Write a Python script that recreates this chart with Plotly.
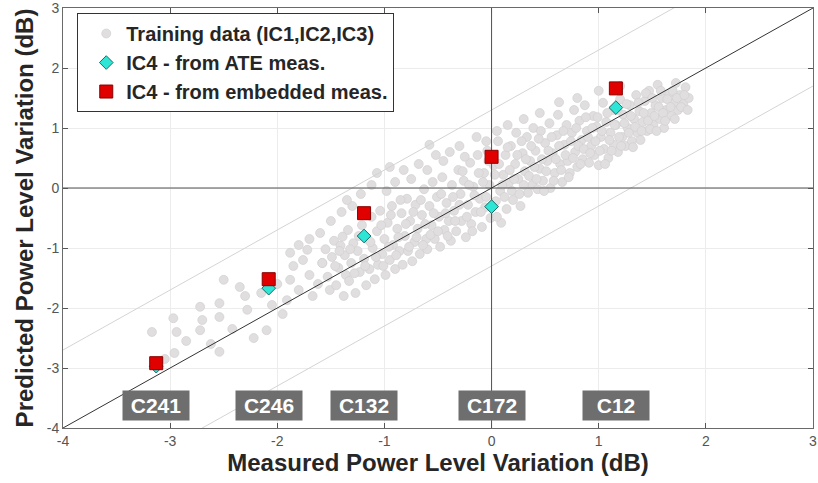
import plotly.graph_objects as go

# ---------------- data ----------------
train_x = [
    -3.17, -3.05, -2.97, -2.94, -2.96, -2.85, -2.72, -2.72, -2.70, -2.62, -2.54, -2.54, -2.54, -2.50,
    -2.42, -2.35, -2.30, -2.28, -2.22, -2.15, -2.10, -2.05, -2.00, -1.95, -1.91, -1.88, -1.88, -1.85,
    -1.80, -1.76, -1.72, -1.70, -1.67, -1.62, -1.58,
    -1.58, -1.55, -1.53, -1.51, -1.49, -1.47, -1.45, -1.43, -1.41, -1.39, -1.38, -1.37, -1.36,
    -1.34, -1.33, -1.31, -1.29, -1.27, -1.25, -1.23, -1.21, -1.19, -1.17, -1.16, -1.14, -1.12, -1.11,
    -1.09, -1.07, -1.06, -1.04, -1.02, -1.00, -0.99, -0.97, -0.95, -0.93, -0.92, -0.90, -0.88, -0.86,
    -0.84, -0.83, -0.81, -0.79, -0.78, -0.76, -0.74, -0.72, -0.71, -0.69, -0.67, -0.65, -0.63, -0.61,
    -0.60, -0.58, -0.56, -0.55, -0.53, -0.51, -0.49, -0.48, -0.46, -0.44, -0.42, -0.40, -0.38, -0.37,
    -0.35, -0.33, -0.31, -0.29, -0.28, -0.26, -0.24, -0.22, -0.20, -0.19, -0.17, -0.15, -0.13, -0.11,
    -0.09, -0.07, -0.06, -0.04, -0.02, -0.01, 0.02, 0.04, 0.06, 0.08, 0.09, 0.11, 0.13, 0.14,
    0.16, 0.18, 0.20, 0.22, 0.23, 0.25, 0.27, 0.29, 0.31, 0.33, 0.34, 0.36, 0.38, 0.39,
    0.41, 0.43, 0.45, 0.46, 0.48, 0.50, 0.52, 0.54, 0.55, 0.57, 0.59, 0.61, 0.62, 0.64,
    0.66, 0.68, 0.70, 0.71, 0.73, 0.75, 0.77, 0.78, 0.80, 0.82, 0.84, 0.85, 0.87, 0.89,
    0.91, 0.93, 0.95, 0.96, 0.98, 1.00, 1.02, 1.04, 1.05, 1.07, 1.09, 1.11, 1.13, 1.14,
    1.16, 1.18, 1.20, 1.22, 1.23, 1.25, 1.27, 1.29, 1.31, 1.33, 1.35, 1.36, 1.38, 1.39,
    1.41, 1.43, 1.45, 1.47, 1.49, 1.51, 1.53, 1.55, 1.57, 1.59, 1.61, 1.63,
    1.66, 1.68, 1.70, 1.72, 1.74, 1.76, 1.79, 1.81, 1.84,
    -1.50, -1.40, -1.30, -1.22, -1.12, -1.07, -0.98, -0.90, -0.82, -0.75, -0.68, -0.60, -0.52, -0.45,
    -0.39, -0.30, -0.25, -0.14, -0.05, 0.05, 0.15, 0.30, 0.45, 0.63, 0.80, 1.00, 1.20, -1.35,
    -0.95, -0.58, -1.60, -1.70, -1.80,
    -1.46, -1.42, -1.32, -1.28, -1.24, -1.18, -1.13, -1.08, -1.03, -1.01, -0.96, -0.94, -0.89, -0.87,
    -0.85, -0.80, -0.77, -0.73, -0.70, -0.66, -0.64, -0.62, -0.57, -0.54, -0.50, -0.47, -0.43, -0.41,
    -0.36, -0.34, -0.30, -0.27, -0.23, -0.21, -0.18, -0.16, -0.12, -0.10, -0.08, -0.05, -0.03, 0.00,
    0.03, 0.05, 0.07, 0.10, 0.12, 0.15, 0.17, 0.19, 0.21, 0.24, 0.26, 0.28, 0.30, 0.32,
    0.35, 0.37, 0.40, 0.42, 0.44, 0.47, 0.49, 0.51, 0.53, 0.56, 0.58, 0.60, 0.63, 0.65,
    0.67, 0.69, 0.72, 0.74, 0.76, 0.79, 0.81, 0.83, 0.86, 0.88, 0.90, 0.92, 0.94, 0.97,
    0.99, 1.01, 1.03, 1.06, 1.08, 1.10, 1.12, 1.15, 1.17, 1.19, 1.21, 1.24, 1.26, 1.28,
    1.30, 1.32, 1.34, 1.37, 1.40, 1.42, 1.44, 1.46, 1.48, 1.50, 1.52, 1.54, 1.56, 1.58,
    1.60, 1.62, 1.64, 1.67, 1.69, 1.71, 1.73, 1.77, 1.80, 1.83,
]
train_y = [
    -2.40, -2.85, -2.17, -2.40, -2.75, -2.55, -2.37, -1.98, -2.20, -2.60, -2.15, -2.73, -1.92, -1.53,
    -2.35, -1.65, -1.80, -2.03, -2.50, -1.75, -2.37, -1.95, -1.60, -2.10, -1.87, -1.53, -1.08, -1.30,
    -1.70, -1.20, -1.03, -1.45, -1.80, -1.60, -1.25,
    -1.25, -1.02, -1.48, -1.70, -1.15, -0.88, -1.62, -1.33, -0.96, -0.81, -1.80, -1.12, -1.45,
    -0.70, -1.55, -1.25, -0.92, -1.75, -1.05, -1.40, -0.62, -1.18, -1.62, -0.85, -1.35, -0.48, -1.00,
    -1.52, -0.72, -1.28, -0.38, -1.10, -0.85, -1.45, -0.58, -1.20, -0.30, -0.95, -1.35, -0.68, -1.05,
    -0.42, -1.28, -0.80, -0.18, -1.05, -0.55, -1.22, -0.90, -0.28, -0.68, -1.10, -0.45, -0.02, -0.85,
    -1.02, -0.30, -0.62, 0.10, -0.85, -0.15, -0.48, -0.98, 0.18, -0.70, -0.25, -0.55, -0.88, 0.05,
    -0.38, -0.72, 0.30, -0.10, -0.55, 0.12, -0.82, -0.28, 0.42, -0.60, 0.02, -0.40, 0.55, -0.18,
    -0.65, 0.25, -0.32, 0.62, 0.05, -0.50, 0.38, -0.22, 0.78, -0.05, -0.58, 0.22, 0.55, -0.35,
    0.08, 0.70, -0.20, 0.40, 0.92, 0.15, -0.30, 0.58, 0.28, 0.85, -0.08, 0.45, 0.05, 1.00,
    0.62, -0.02, 0.32, 0.95, 0.12, 0.75, 0.45, 1.08, 0.00, 0.58, 0.25, 0.88, 1.22, 0.40,
    0.10, 0.72, 1.05, 0.45, 0.25, 0.92, 1.30, 0.60, 0.35, 1.12, 0.80, 0.48, 1.38, 0.95,
    0.42, 0.70, 1.20, 0.55, 1.02, 0.38, 0.85, 1.42, 0.65, 1.10, 0.50, 0.92, 1.30, 0.72,
    1.05, 0.60, 1.48, 0.85, 1.22, 0.70, 1.00, 1.38, 0.78, 1.15, 1.55, 0.92, 1.28, 0.80,
    1.10, 1.45, 0.95, 1.62, 1.25, 1.05, 1.38, 1.72, 1.15, 1.50, 1.00, 1.30,
    1.58, 1.20, 1.42, 1.75, 1.30, 1.55, 1.40, 1.68, 1.50,
    -0.55, -0.40, -0.30, -0.10, 0.05, 0.25, -0.05, 0.10, 0.30, 0.15, 0.40, 0.30, 0.55, 0.45,
    0.60, 0.70, 0.52, 0.85, 0.78, 0.95, 1.05, 1.15, 1.25, 1.43, 1.50, 1.62, 1.70, -0.20,
    0.35, 0.72, -0.75, -0.85, -0.95,
    -1.30, -1.05, -1.02, -1.42, -0.80, -1.30, -0.90, -1.15, -0.62, -1.30, -0.98, -0.45, -1.12, -0.82,
    -0.20, -0.60, -0.98, -0.40, -0.82, -0.20, -0.95, -0.60, -0.78, -0.42, -0.72, -0.10, -0.42, -0.80,
    -0.15, -0.55, -0.28, 0.28, -0.48, 0.05, -0.72, -0.12, 0.25, -0.40, 0.10, -0.15, 0.45, -0.30,
    0.22, -0.48, 0.40, 0.05, -0.15, 0.68, 0.30, -0.05, 0.15, 0.55, -0.10, 0.78, 0.05, 0.48,
    0.20, 0.70, 0.35, 0.15, 0.82, 0.48, -0.05, 0.28, 0.62, 0.85, 0.12, 0.48, 0.70, 0.30,
    0.95, 0.55, 0.18, 0.78, 0.50, 1.00, 0.70, 0.40, 0.65, 1.18, 0.85, 0.58, 1.00, 0.78,
    1.18, 0.62, 0.95, 0.40, 1.25, 0.80, 0.62, 1.05, 1.30, 0.85, 0.70, 1.08, 1.40, 0.92,
    1.20, 0.68, 1.02, 1.42, 0.95, 1.25, 1.58, 1.12, 0.98, 1.50, 1.20, 0.95, 1.35, 1.62,
    1.25, 1.12, 1.48, 1.35, 1.62, 1.15, 1.50, 1.35, 1.55, 1.30,
]

ic4_x = [-3.13, -2.08, -1.19, 0.0, 1.16]
ic4_ate_y = [-2.97, -1.67, -0.80, -0.31, 1.34]
ic4_emb_y = [-2.92, -1.52, -0.42, 0.52, 1.66]
ic4_names = ["C241", "C246", "C132", "C172", "C12"]

axis_range = [-4, 3]
band_offsets = [-1.3, 1.3]
label_y = -3.63
tick_vals = [-4, -3, -2, -1, 0, 1, 2, 3]
tick_text = ["-4", "-3", "-2", "-1", "0", "1", "2", "3"]

FONT = "Liberation Sans, Arial, sans-serif"

# ---------------- figure ----------------
fig = go.Figure()

fig.add_trace(go.Scatter(
    x=train_x, y=train_y, mode="markers",
    name="<b>Training data (IC1,IC2,IC3)</b>",
    marker=dict(size=9, color="#e0dede", line=dict(color="#cfcdcd", width=0.6)),
))

for off in band_offsets:
    fig.add_trace(go.Scatter(
        x=axis_range, y=[v + off for v in axis_range], mode="lines",
        line=dict(color="#d4d4d4", width=1), showlegend=False, hoverinfo="skip",
    ))

fig.add_trace(go.Scatter(
    x=[0, 0], y=axis_range, mode="lines",
    line=dict(color="#505050", width=1), showlegend=False, hoverinfo="skip",
))
fig.add_trace(go.Scatter(
    x=axis_range, y=[0, 0], mode="lines",
    line=dict(color="#505050", width=1), showlegend=False, hoverinfo="skip",
))
fig.add_trace(go.Scatter(
    x=axis_range, y=axis_range, mode="lines",
    line=dict(color="#333333", width=1), showlegend=False, hoverinfo="skip",
))

fig.add_trace(go.Scatter(
    x=ic4_x, y=ic4_ate_y, mode="markers",
    name="<b>IC4 - from ATE meas.</b>",
    marker=dict(symbol="diamond", size=10.5, color="#2ee6d6",
                line=dict(color="#1a6b66", width=1)),
))
fig.add_trace(go.Scatter(
    x=ic4_x, y=ic4_emb_y, mode="markers",
    name="<b>IC4 - from embedded meas.</b>",
    marker=dict(symbol="square", size=13, color="#e00000",
                line=dict(color="#8a0000", width=1)),
))

for xv, name in zip(ic4_x, ic4_names):
    fig.add_annotation(
        x=xv, y=label_y, text=f"<b>{name}</b>", showarrow=False,
        bgcolor="#6e6e6e", width=64, height=27,
        font=dict(family=FONT, size=21, color="white"),
    )

axis_common = dict(
    range=axis_range, tickvals=tick_vals, ticktext=tick_text,
    ticks="inside", ticklen=5, automargin=False, ticklabeloverflow="allow",
    tickcolor="#555555", showgrid=True, gridcolor="#ececec", gridwidth=1,
    showline=True, linecolor="#6a6a6a", linewidth=1, mirror="ticks",
    zeroline=False,
    tickfont=dict(family=FONT, size=14, color="#555555"),
)

fig.update_layout(
    width=818, height=483,
    margin=dict(l=63, r=5, t=8, b=55),
    paper_bgcolor="white", plot_bgcolor="white",
    font=dict(family=FONT, color="#262626"),
    xaxis=dict(**axis_common,
               title=dict(text="<b>Measured Power Level Variation (dB)</b>",
                          font=dict(size=24, color="#262626"), standoff=4)),
    yaxis=dict(**axis_common,
               title=dict(text="<b>Predicted Power Level Variation (dB)</b>",
                          font=dict(size=24, color="#262626"), standoff=6)),
    legend=dict(x=0.019, y=0.988, xanchor="left", yanchor="top",
                bgcolor="white", bordercolor="#333333", borderwidth=1,
                indentation=8,
                font=dict(size=20, color="#262626")),
    showlegend=True,
)

fig.write_html("out.html", config={"displayModeBar": False},
               post_script="document.body.style.margin='0px';")
